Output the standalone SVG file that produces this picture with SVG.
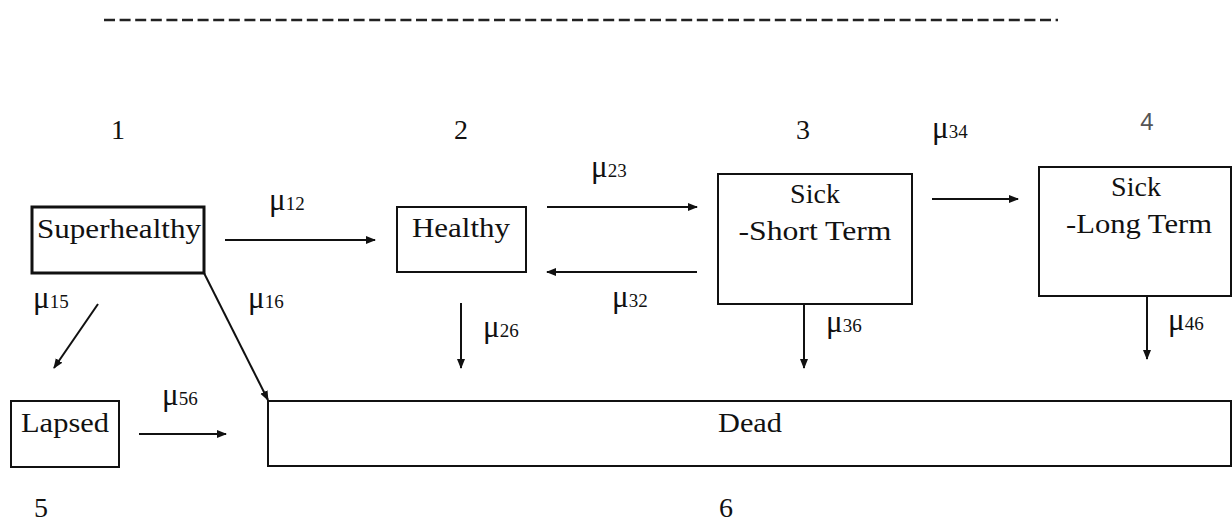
<svg xmlns="http://www.w3.org/2000/svg" width="1232" height="521" viewBox="0 0 1232 521">
<style>
.box{fill:#fff;stroke:#111;stroke-width:2}
.lbl{font-family:"Liberation Serif","Times New Roman",serif;font-size:28px;fill:#111;text-anchor:middle}
.num{font-family:"Liberation Serif","Times New Roman",serif;font-size:28px;fill:#111;text-anchor:middle}
.mu{font-family:"Liberation Serif","Times New Roman",serif;font-size:31px;fill:#111}
.sub{font-size:19px}
.edge{stroke:#111;stroke-width:2;fill:none;marker-end:url(#ah)}
</style>
<defs>
<marker id="ah" viewBox="0 0 10 10" refX="9" refY="5" markerWidth="10" markerHeight="10" markerUnits="userSpaceOnUse" orient="auto">
<path d="M0,1 L10,5 L0,9 Z" fill="#111"/>
</marker>
</defs>
<rect width="1232" height="521" fill="#fff"/>
<line x1="104" y1="20" x2="1058" y2="20" stroke="#222" stroke-width="2.5" stroke-dasharray="11 4.6"/>

<g id="node-superhealthy">
<rect class="box" x="32" y="207" width="172" height="66" style="stroke-width:3"/>
<text class="lbl" x="119" y="238" textLength="164" lengthAdjust="spacingAndGlyphs">Superhealthy</text>
<text class="num" x="118" y="139">1</text>
</g>
<g id="node-healthy">
<rect class="box" x="397" y="207" width="129" height="65"/>
<text class="lbl" x="461" y="237" textLength="98" lengthAdjust="spacingAndGlyphs">Healthy</text>
<text class="num" x="461" y="139">2</text>
</g>
<g id="node-sick-short">
<rect class="box" x="718" y="174" width="194" height="130"/>
<text class="lbl" x="815" y="203">Sick</text>
<text class="lbl" x="815" y="240" textLength="153" lengthAdjust="spacingAndGlyphs">-Short Term</text>
<text class="num" x="803" y="139">3</text>
</g>
<g id="node-sick-long">
<rect class="box" x="1039" y="167" width="192" height="129"/>
<text class="lbl" x="1136" y="196">Sick</text>
<text class="lbl" x="1139" y="233" textLength="146" lengthAdjust="spacingAndGlyphs">-Long Term</text>
<text x="1147" y="130" style="font-family:'Liberation Sans',Arial,sans-serif;font-size:24px;fill:#555;text-anchor:middle">4</text>
</g>
<g id="node-lapsed">
<rect class="box" x="11" y="401" width="108" height="66"/>
<text class="lbl" x="65" y="432" textLength="88" lengthAdjust="spacingAndGlyphs">Lapsed</text>
<text class="num" x="41" y="517">5</text>
</g>
<g id="node-dead">
<rect class="box" x="268" y="401" width="963" height="65"/>
<text class="lbl" x="750" y="432" textLength="64" lengthAdjust="spacingAndGlyphs">Dead</text>
<text class="num" x="726" y="517">6</text>
</g>

<g id="connectors">
<line class="edge" x1="225" y1="240" x2="375" y2="240"/>
<line class="edge" x1="547" y1="207" x2="697" y2="207"/>
<line class="edge" x1="697" y1="272" x2="547" y2="272"/>
<line class="edge" x1="932" y1="199" x2="1018" y2="199"/>
<line class="edge" x1="98" y1="304" x2="54" y2="368"/>
<line class="edge" x1="204" y1="273" x2="268" y2="400"/>
<line class="edge" x1="461" y1="303" x2="461" y2="368"/>
<line class="edge" x1="804" y1="304" x2="804" y2="368"/>
<line class="edge" x1="1147" y1="296" x2="1147" y2="359"/>
<line class="edge" x1="139" y1="434" x2="226" y2="434"/>
<text class="mu" x="269" y="210">μ<tspan class="sub">12</tspan></text>
<text class="mu" x="591" y="177">μ<tspan class="sub">23</tspan></text>
<text class="mu" x="612" y="307">μ<tspan class="sub">32</tspan></text>
<text class="mu" x="932" y="138">μ<tspan class="sub">34</tspan></text>
<text class="mu" x="33" y="308">μ<tspan class="sub">15</tspan></text>
<text class="mu" x="248" y="308">μ<tspan class="sub">16</tspan></text>
<text class="mu" x="483" y="337">μ<tspan class="sub">26</tspan></text>
<text class="mu" x="826" y="332">μ<tspan class="sub">36</tspan></text>
<text class="mu" x="1168" y="330">μ<tspan class="sub">46</tspan></text>
<text class="mu" x="162" y="405">μ<tspan class="sub">56</tspan></text>
</g>
</svg>
